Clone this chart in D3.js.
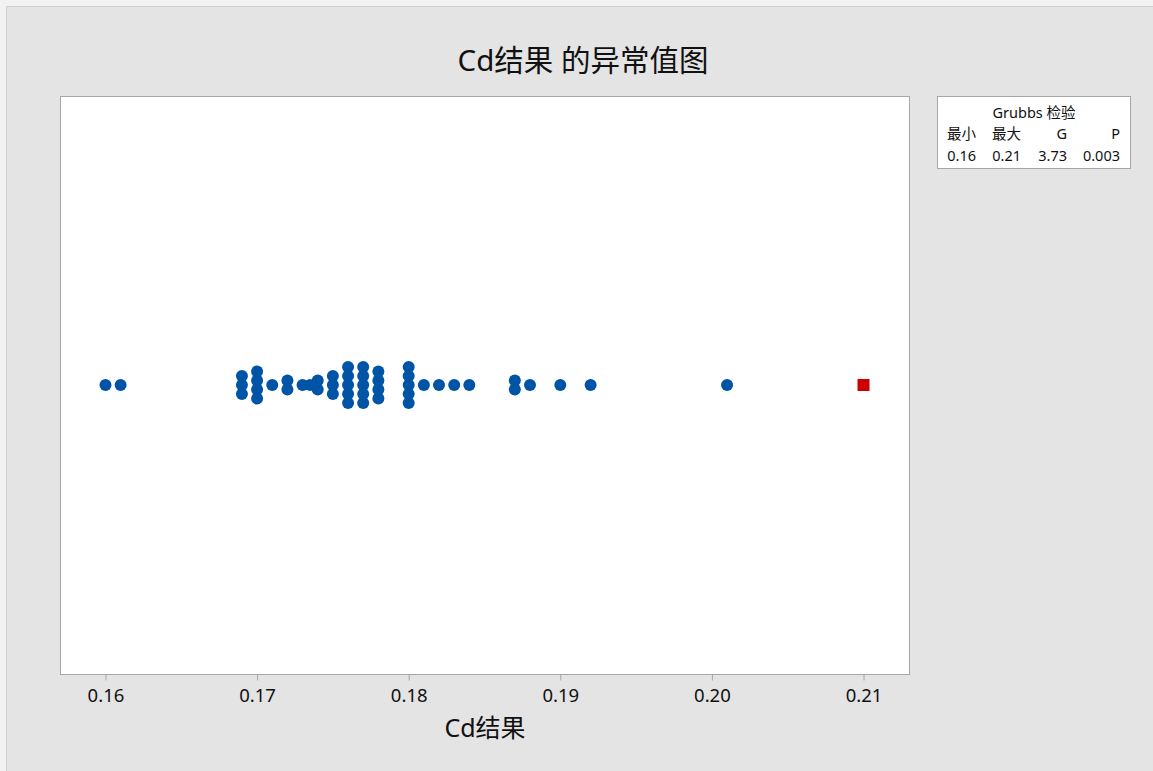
<!DOCTYPE html>
<html>
<head>
<meta charset="utf-8">
<script src="https://cdn.jsdelivr.net/npm/d3@7"></script>
<style>
  html, body { margin: 0; padding: 0; background: #f2f2f2; }
  svg { display: block; }
  text { font-family: "Noto Sans", "Noto Sans CJK SC", sans-serif; fill: #111; }
</style>
</head>
<body>
<svg id="chart" width="1153" height="771"></svg>
<script>
// Cd results: distinct values and how many observations share each value
const values = [0.160, 0.161, 0.169, 0.170, 0.171, 0.172, 0.173, 0.1735, 0.174, 0.175,
                0.176, 0.177, 0.178, 0.180, 0.181, 0.182, 0.183, 0.184, 0.187, 0.188,
                0.190, 0.192, 0.201];
const counts = [1, 1, 3, 4, 1, 2, 1, 1, 2, 3,
                5, 5, 4, 5, 1, 1, 1, 1, 2, 1,
                1, 1, 1];
// Grubbs outlier
const outliers = [0.210];
const tickValues = [0.16, 0.17, 0.18, 0.19, 0.20, 0.21];
const tickLabels = ["0.16", "0.17", "0.18", "0.19", "0.20", "0.21"];
// Grubbs test summary table
const statHeaders = ["最小", "最大", "G", "P"];
const statValues = ["0.16", "0.21", "3.73", "0.003"];

const svg = d3.select("#chart");
const plot = { left: 60, right: 909, top: 96, bottom: 674 };

// figure panel
svg.append("rect").attr("x", 6.5).attr("y", 6.5).attr("width", 1160).attr("height", 780)
  .attr("fill", "#e4e4e4").attr("stroke", "#cfcfcf");

svg.append("text").attr("x", 583).attr("y", 71).attr("text-anchor", "middle")
  .style("font-size", "29.5px").text("Cd结果 的异常值图");

svg.append("rect").attr("x", plot.left + 0.5).attr("y", plot.top + 0.5)
  .attr("width", plot.right - plot.left).attr("height", plot.bottom - plot.top)
  .attr("fill", "#fff").attr("stroke", "#a6a6a6");

const x = d3.scaleLinear().domain([0.157, 0.213]).range([plot.left, plot.right]);
const yMid = (plot.top + plot.bottom) / 2;
const step = 9;

const axis = d3.axisBottom(x).tickValues(tickValues)
  .tickFormat((d, i) => tickLabels[i]).tickSize(6).tickPadding(8);
const gAxis = svg.append("g").attr("transform", `translate(0,${plot.bottom + 0.5})`).call(axis);
gAxis.select(".domain").remove();
gAxis.selectAll(".tick line").attr("stroke", "#a6a6a6");
gAxis.selectAll(".tick text").style("font-size", "18.5px").style("font-family", "'Noto Sans', sans-serif").attr("fill", "#111");

svg.append("text").attr("x", 485).attr("y", 737).attr("text-anchor", "middle")
  .style("font-size", "25px").text("Cd结果");

// stacked dots
const dots = [];
values.forEach((v, i) => {
  const n = counts[i];
  for (let k = 0; k < n; k++) dots.push({ v, off: (k - (n - 1) / 2) * step });
});
svg.append("g").selectAll("circle").data(dots).join("circle")
  .attr("cx", d => x(d.v)).attr("cy", d => yMid + d.off).attr("r", 6)
  .attr("fill", "#0054a6");

const sq = 12;
svg.append("g").selectAll("rect").data(outliers).join("rect")
  .attr("x", d => x(d) - sq / 2).attr("y", yMid - sq / 2)
  .attr("width", sq).attr("height", sq).attr("fill", "#cc0000");

// Grubbs table
const lg = svg.append("g");
lg.append("rect").attr("x", 937.5).attr("y", 96.5).attr("width", 193).attr("height", 72)
  .attr("fill", "#fff").attr("stroke", "#a6a6a6");
lg.append("text").attr("x", 1034).attr("y", 118).attr("text-anchor", "middle")
  .style("font-size", "14.5px").text("Grubbs 检验");
const colRight = [976, 1021, 1067, 1120];
statHeaders.forEach((h, i) => {
  lg.append("text").attr("x", colRight[i]).attr("y", 139).attr("text-anchor", "end")
    .style("font-size", "14.5px").text(h);
});
statValues.forEach((s, i) => {
  lg.append("text").attr("x", colRight[i]).attr("y", 161).attr("text-anchor", "end")
    .style("font-size", "14.5px").text(s);
});
</script>
</body>
</html>
